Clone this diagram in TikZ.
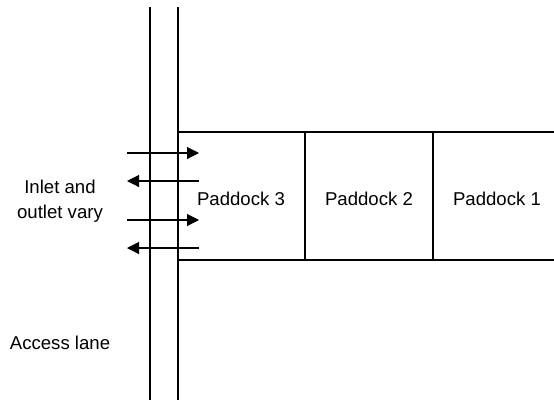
\documentclass[tikz,border=0pt]{standalone}
\usepackage{fontspec}
\setmainfont{Liberation Sans}
\usetikzlibrary{arrows.meta,positioning}
\tikzset{
  wall/.style={line width=1.1pt,draw=black},
  label/.style={font=\fontsize{18.6}{24.5}\selectfont,align=center,inner sep=0pt},
  gatearr/.style={-{Triangle[length=12pt,width=12pt]},line width=1.1pt}
}
\begin{document}
\begin{tikzpicture}[x=1pt,y=-1pt]
    \path[use as bounding box] (0,0) rectangle (554,400);

    % access lane
    \draw[wall] (150,7) -- (150,400);
    \draw[wall] (178,7) -- (178,400);

    % paddock strip
    \draw[wall] (178,132) -- (554,132);
    \draw[wall] (178,260) -- (554,260);
    \draw[wall] (305,132) -- (305,260);
    \draw[wall] (433,132) -- (433,260);

    \node[label] (pad3) at (241,199) {Paddock 3};
    \node[label] (pad2) at (369,199) {Paddock 2};
    \node[label] (pad1) at (497,199) {Paddock 1};

    \node[label] (vary) at (60,201) {Inlet and\\outlet vary};
    \node[label] (lane) at (60,343) {Access lane};

    % gates
    \coordinate (g1a) at (127,153); \coordinate (g1b) at (199,153);
    \coordinate (g2a) at (127,181); \coordinate (g2b) at (199,181);
    \coordinate (g3a) at (127,220); \coordinate (g3b) at (199,220);
    \coordinate (g4a) at (127,248); \coordinate (g4b) at (199,248);
    \draw[gatearr] (g1a) -- (g1b);
    \draw[gatearr] (g2b) -- (g2a);
    \draw[gatearr] (g3a) -- (g3b);
    \draw[gatearr] (g4b) -- (g4a);
\end{tikzpicture}
\end{document}
